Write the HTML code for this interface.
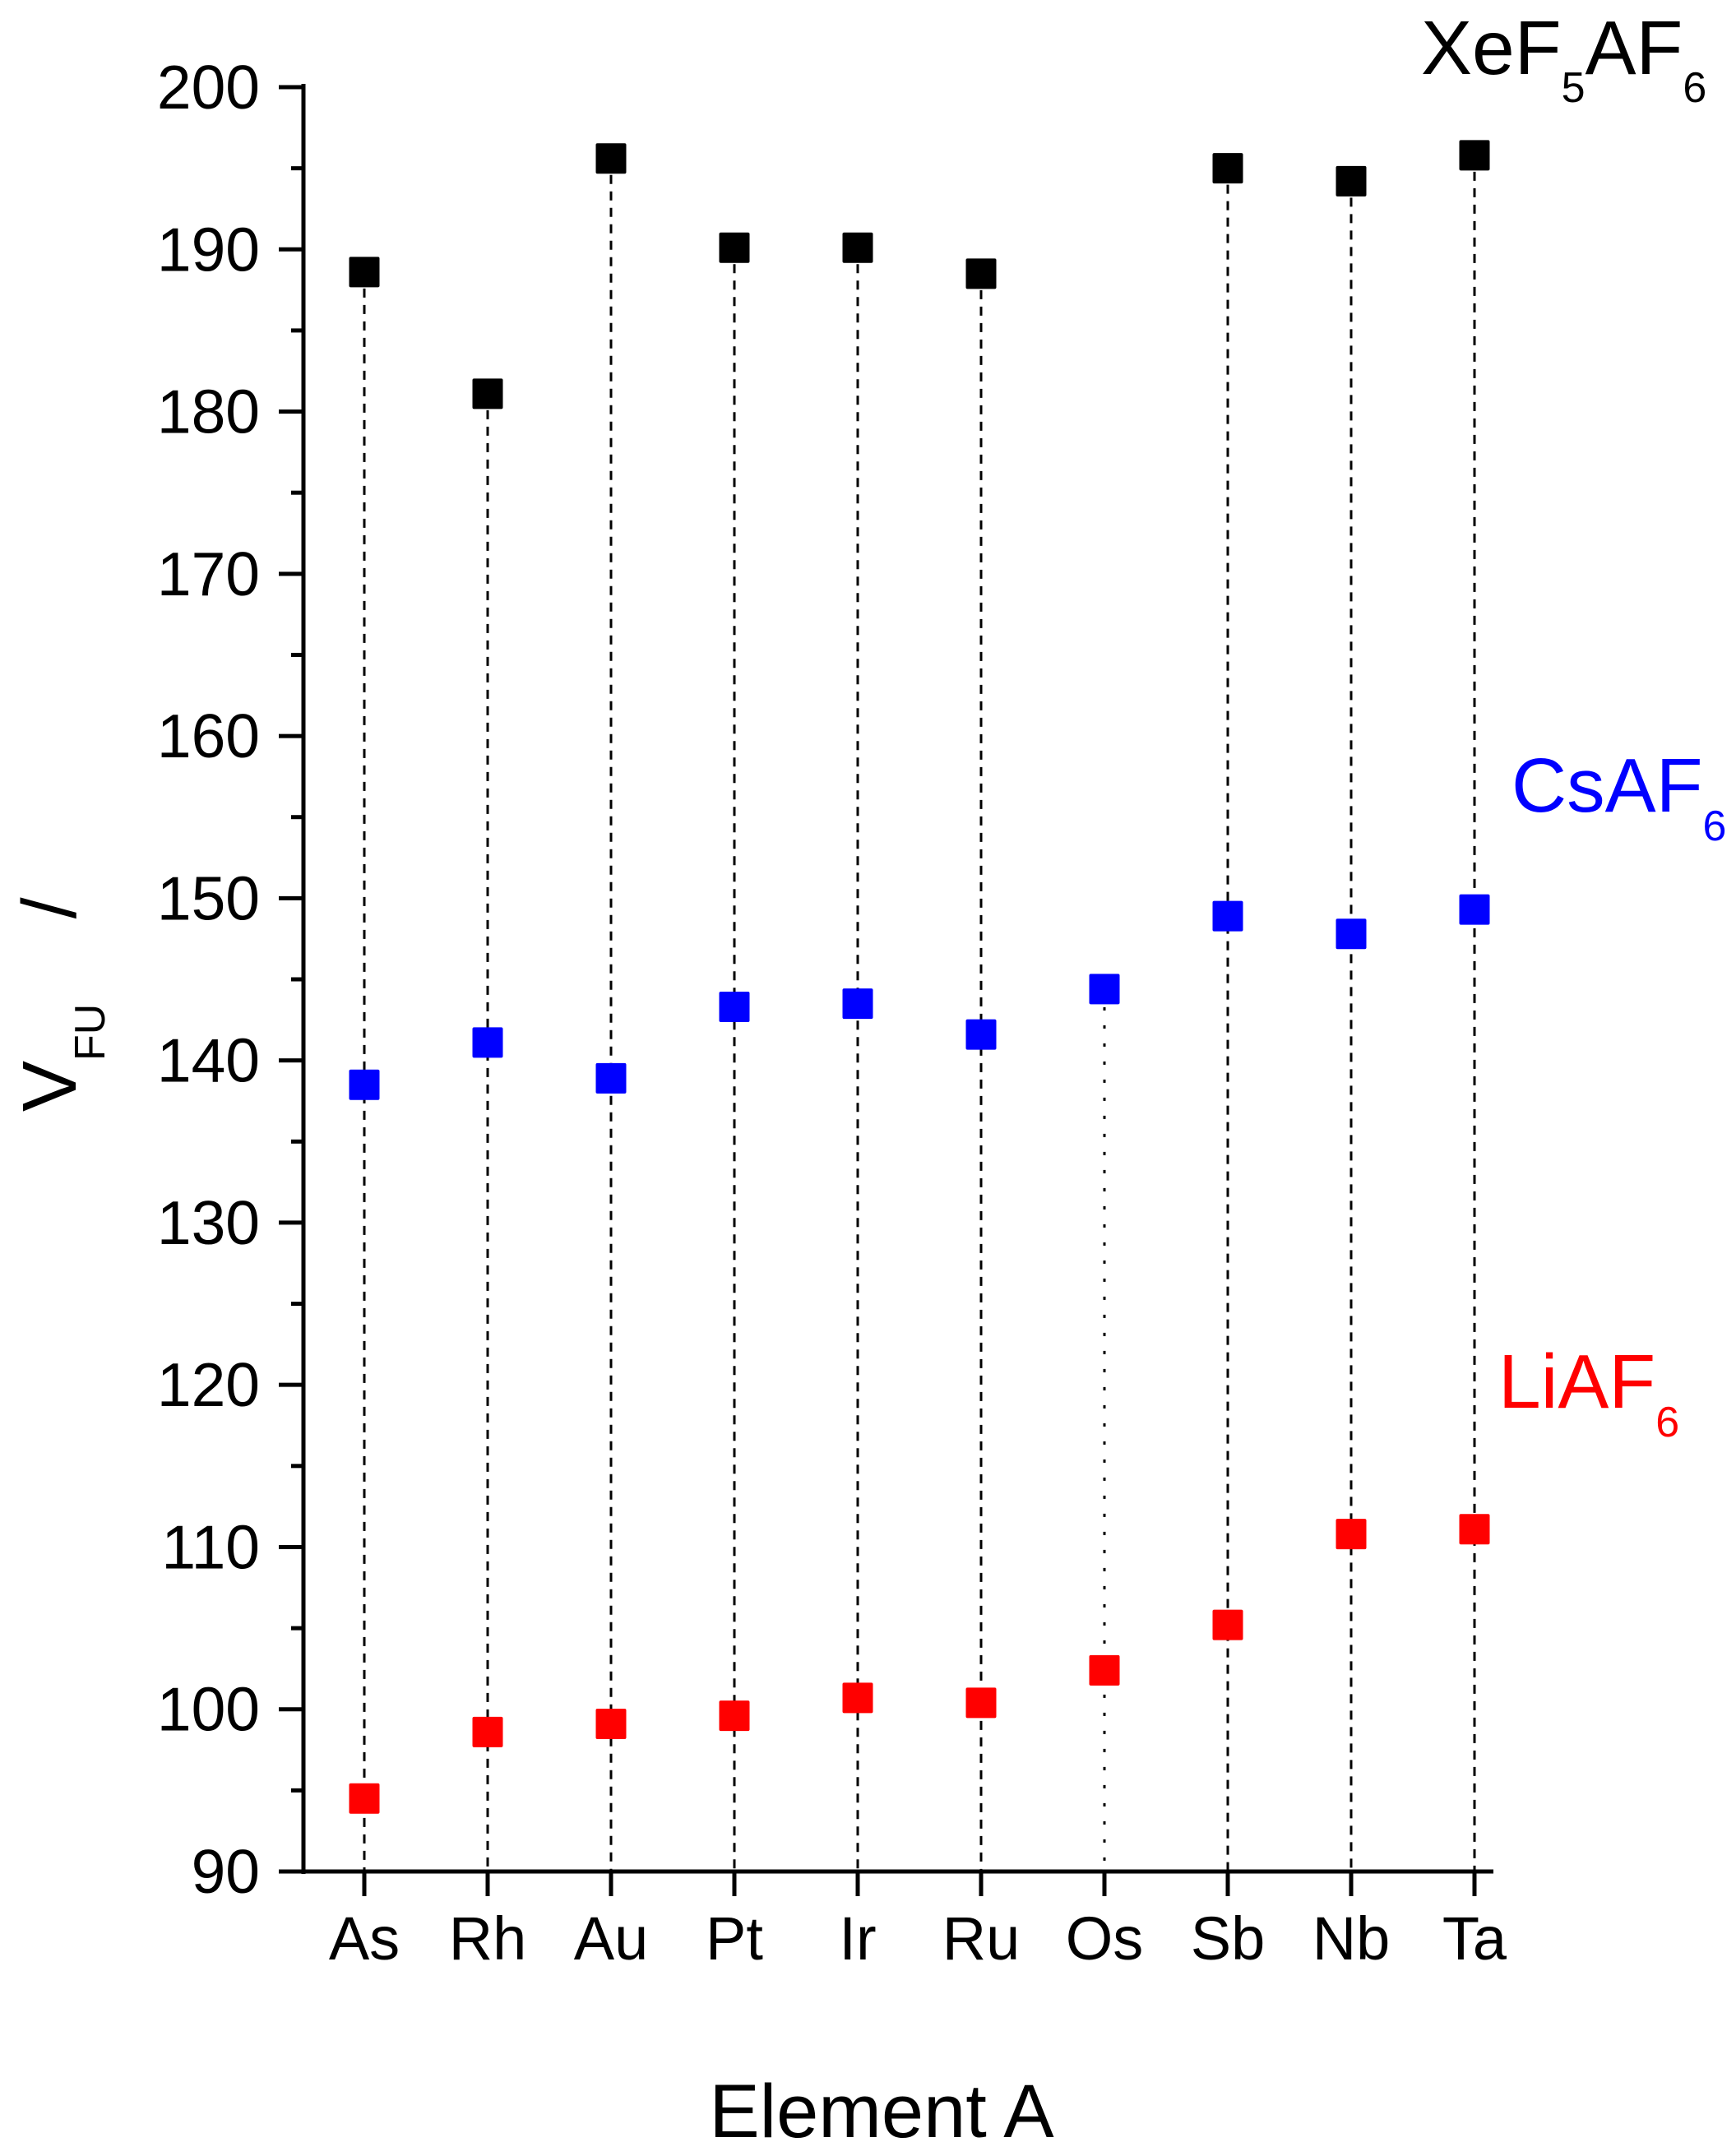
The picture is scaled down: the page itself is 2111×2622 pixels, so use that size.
<!DOCTYPE html>
<html><head><meta charset="utf-8"><style>
html,body{margin:0;padding:0;background:#fff;}
svg{display:block;font-family:"Liberation Sans",Arial,sans-serif;}
</style></head><body>
<svg id="chart" width="2111" height="2622" viewBox="0 0 2111 2622" xmlns="http://www.w3.org/2000/svg">
<g id="grid"></g>
<g id="axes"></g>
<g id="marks"></g>
<text x="1728" y="90" font-size="93" fill="#000">XeF<tspan font-size="52" dy="34">5</tspan><tspan dy="-34">AF</tspan><tspan font-size="52" dy="34">6</tspan></text>
<text x="1838" y="987" font-size="93" fill="#0000ff">CsAF<tspan font-size="52" dy="35">6</tspan></text>
<text x="1822" y="1712" font-size="93" fill="#ff0000">LiAF<tspan font-size="52" dy="35">6</tspan></text>
<text x="1072" y="2599" font-size="92" text-anchor="middle" fill="#000">Element A</text>
<text transform="translate(92,1352) rotate(-90)" font-size="93" fill="#000">V<tspan font-size="52" dy="35">FU</tspan><tspan dy="-35" xml:space="preserve">    /</tspan></text>
</svg>
<script>
const categories = ["As","Rh","Au","Pt","Ir","Ru","Os","Sb","Nb","Ta"];
const xef5Values = [188.6,181.1,195.6,190.1,190.1,188.5,null,195.0,194.2,195.8];
const csValues = [138.5,141.1,138.9,143.3,143.5,141.6,144.4,148.9,147.8,149.3];
const liValues = [94.5,98.6,99.1,99.6,100.7,100.4,102.4,105.2,110.8,111.1];
const yTicks = [90,100,110,120,130,140,150,160,170,180,190,200];

const NS = "http://www.w3.org/2000/svg";
const X0 = 369, XEND = 1816, Y0 = 2276;
const yMin = 90, yMax = 200, yPx200 = 106;
function yScale(v){ return Y0 - (v - yMin) / (yMax - yMin) * (Y0 - yPx200); }
function xScale(i){ return 443 + i * 150; }
function mk(tag, attrs, parent){
  const e = document.createElementNS(NS, tag);
  for (const k in attrs) e.setAttribute(k, attrs[k]);
  parent.appendChild(e); return e;
}
const axes = document.getElementById('axes');
const marks = document.getElementById('marks');
const grid = document.getElementById('grid');

let yl = mk('line', {x1:X0, y1:yPx200-4, x2:X0, y2:Y0+3, stroke:'#000','stroke-width':5}, axes);


let xl = mk('line', {x1:339, y1:Y0, x2:XEND, y2:Y0, stroke:'#000','stroke-width':5}, axes);



yTicks.forEach(function(v){
  const y = yScale(v);
  const t = mk('line', {x1:X0-30, y1:y, x2:X0, y2:y, stroke:'#000','stroke-width':5}, axes);
  
  
  const lb = mk('text', {x:316, y:y+26, 'font-size':75, 'text-anchor':'end', fill:'#000'}, axes);
  lb.textContent = v;
  
  
  if (v < yMax) {
    const ym = yScale(v + 5);
    const m = mk('line', {x1:X0-15, y1:ym, x2:X0, y2:ym, stroke:'#000','stroke-width':5}, axes);
    
    
  }
});

categories.forEach(function(c, i){
  const x = xScale(i);
  const t = mk('line', {x1:x, y1:Y0, x2:x, y2:Y0+30, stroke:'#000','stroke-width':5}, axes);
  
  
  const lb = mk('text', {x:x, y:2383, 'font-size':74, 'text-anchor':'middle', fill:'#000'}, axes);
  lb.textContent = c;
  
  
  const top = xef5Values[i] != null ? xef5Values[i] : csValues[i];
  const dotted = xef5Values[i] == null;
  const dl = mk('line', {x1:x, y1:yScale(top), x2:x, y2:Y0, stroke:'#000','stroke-width':3,
    'stroke-dasharray': dotted ? '4 18' : '11 9'}, grid);
  
  
});

const S = 37;
function drawSeries(vals, color, name){
  vals.forEach(function(v, i){
    if (v == null) return;
    const r = mk('rect', {x:xScale(i)-S/2, y:yScale(v)-S/2, width:S, height:S, rx:2, fill:color}, marks);
    
    
  });
}
drawSeries(xef5Values, '#000000', 'xef5af6');
drawSeries(csValues, '#0000ff', 'csaf6');
drawSeries(liValues, '#ff0000', 'liaf6');
</script>
</body></html>
